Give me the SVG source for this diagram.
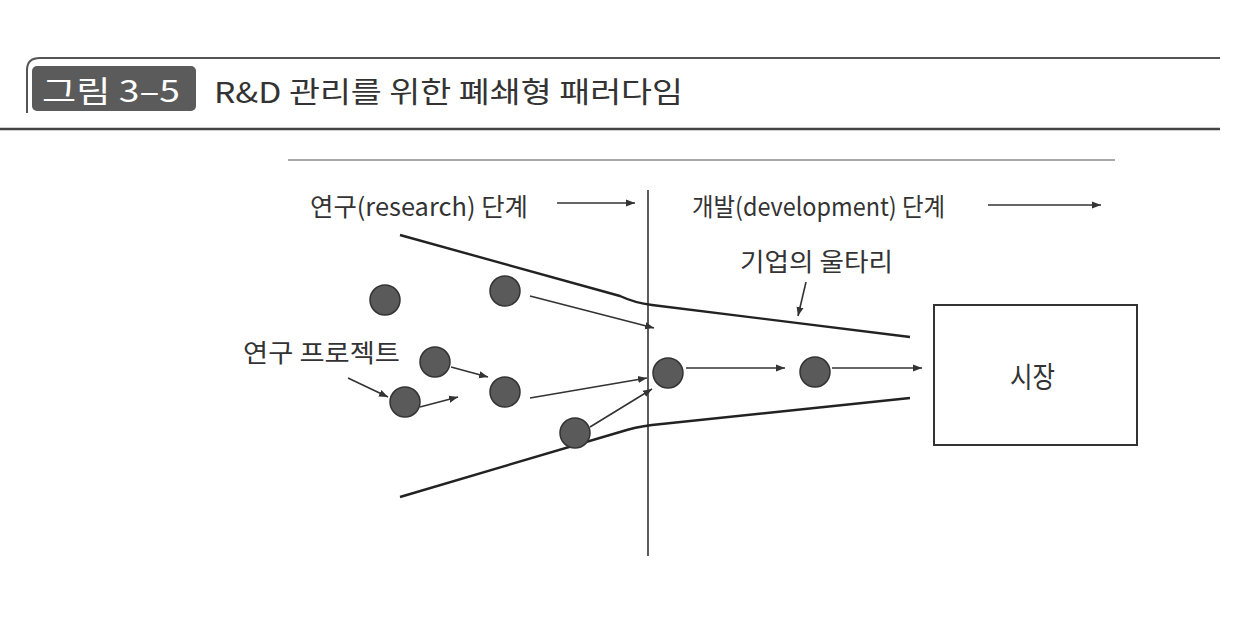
<svg xmlns="http://www.w3.org/2000/svg" width="1244" height="642" viewBox="0 0 1244 642">
<defs>
<marker id="ah" viewBox="0 0 10 10" refX="10" refY="5" markerWidth="9" markerHeight="9" markerUnits="userSpaceOnUse" orient="auto">
<path d="M0,1 L10,5 L0,9 z" fill="#333"/>
</marker>
<style>
.t{font-family:"Noto Sans CJK KR","Noto Sans",sans-serif;fill:#333;}
.lbl{font-size:25px;}
.edge{stroke:#333;stroke-width:1.6;fill:none;marker-end:url(#ah);}
.bound{stroke:#222;stroke-width:2.4;fill:none;}
.dot{fill:#5a5a5a;stroke:#333;stroke-width:1.5;}
</style>
</defs>
<rect width="1244" height="642" fill="#fff"/>
<g id="title">
<path d="M27,113 L27,70 Q27,58 40,58 L1220,58" fill="none" stroke="#555" stroke-width="2"/>
<line x1="0" y1="129" x2="1220" y2="129" stroke="#444" stroke-width="2.5"/>
<rect x="32" y="66" width="164" height="45" rx="5" fill="#5b5b5b"/>
<text x="42" y="102" textLength="138" lengthAdjust="spacingAndGlyphs" class="t" style="fill:#fff;font-size:30px">그림 3–5</text>
<text x="214" y="103" textLength="469" lengthAdjust="spacingAndGlyphs" class="t" style="font-size:29px">R&amp;D 관리를 위한 폐쇄형 패러다임</text>
</g>
<g id="frame">
<line x1="288" y1="160" x2="1115" y2="160" stroke="#555" stroke-width="1.2"/>
<line x1="648" y1="190" x2="648" y2="556" stroke="#333" stroke-width="1.6"/>
</g>
<g id="labels">
<text x="310" y="216" textLength="218" lengthAdjust="spacingAndGlyphs" class="t lbl">연구(research) 단계</text>
<text x="692" y="216" textLength="253" lengthAdjust="spacingAndGlyphs" class="t lbl">개발(development) 단계</text>
<text x="740" y="271" textLength="153" lengthAdjust="spacingAndGlyphs" class="t lbl">기업의 울타리</text>
<text x="243" y="362" textLength="157" lengthAdjust="spacingAndGlyphs" class="t lbl">연구 프로젝트</text>
</g>
<g id="boundary">
<path class="bound" d="M400,235 L620,296 Q635,303 652,305 L910,337"/>
<path class="bound" d="M400,497 L620,432 Q635,427 652,425 L910,398"/>
</g>
<g id="market">
<rect x="934" y="305" width="203" height="140" fill="#fff" stroke="#333" stroke-width="2"/>
<text x="1010" y="388" textLength="45" lengthAdjust="spacingAndGlyphs" class="t" style="font-size:29px">시장</text>
</g>
<g id="projects">
<circle id="p1" class="dot" cx="385" cy="300" r="15"/>
<circle id="p2" class="dot" cx="505" cy="291" r="15"/>
<circle id="p3" class="dot" cx="435" cy="362" r="15"/>
<circle id="p4" class="dot" cx="505" cy="392" r="15"/>
<circle id="p5" class="dot" cx="405" cy="402" r="15"/>
<circle id="p6" class="dot" cx="575" cy="433" r="15"/>
<circle id="p7" class="dot" cx="668" cy="373" r="15"/>
<circle id="p8" class="dot" cx="815" cy="372" r="15"/>
</g>
<g id="connectors">
<line class="edge" x1="557" y1="203" x2="635" y2="203"/>
<line class="edge" x1="988" y1="205" x2="1101" y2="205"/>
<line class="edge" x1="806" y1="282" x2="798" y2="316"/>
<line class="edge" x1="348" y1="378" x2="388" y2="397"/>
<line class="edge" x1="530" y1="296" x2="654" y2="328"/>
<line class="edge" x1="451" y1="367" x2="488" y2="377"/>
<line class="edge" x1="420" y1="407" x2="458" y2="397"/>
<line class="edge" x1="530" y1="398" x2="647" y2="378"/>
<line class="edge" x1="590" y1="427" x2="652" y2="389"/>
<line class="edge" x1="686" y1="368" x2="785" y2="368"/>
<line class="edge" x1="832" y1="368" x2="922" y2="368"/>
</g>
</svg>
